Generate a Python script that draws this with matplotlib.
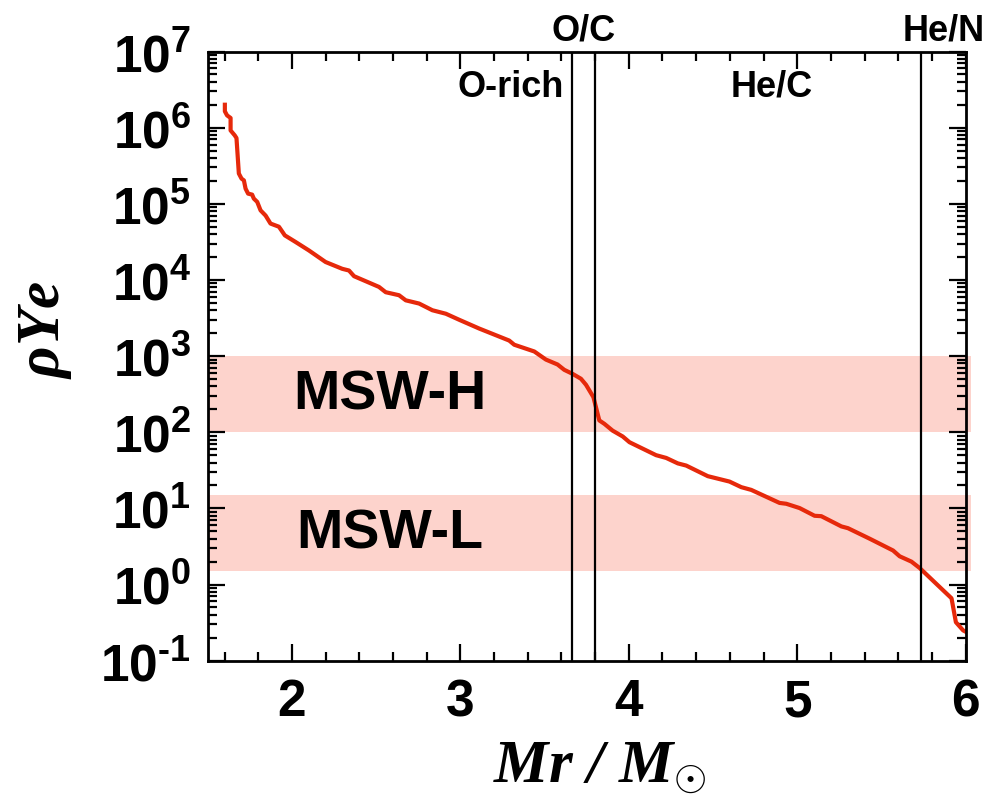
import math
import matplotlib
matplotlib.use("Agg")
import matplotlib.pyplot as plt
from matplotlib.ticker import LogLocator, MultipleLocator, FuncFormatter

plt.rcParams['font.family'] = ['Liberation Sans', 'DejaVu Sans']
plt.rcParams['mathtext.fontset'] = 'custom'
plt.rcParams['mathtext.rm'] = 'Liberation Sans:bold'
plt.rcParams['mathtext.bf'] = 'Liberation Sans:bold'
plt.rcParams['mathtext.it'] = 'Liberation Serif:italic'
plt.rcParams['mathtext.bfit'] = 'Liberation Serif:italic:bold'

# density profile: enclosed mass vs rho*Ye
mass = [1.602, 1.602, 1.615, 1.636, 1.636, 1.661, 1.671, 1.685, 1.701, 1.715,
        1.725, 1.740, 1.764, 1.774, 1.794, 1.814, 1.844, 1.873, 1.923, 1.958,
        2.022, 2.101, 2.200, 2.299, 2.339, 2.369, 2.517, 2.557, 2.636, 2.676,
        2.755, 2.834, 2.914, 2.993, 3.112, 3.290, 3.320, 3.439, 3.508, 3.577,
        3.617, 3.666, 3.716, 3.746, 3.790, 3.825, 3.855, 3.904, 3.964, 4.004,
        4.162, 4.222, 4.291, 4.341, 4.469, 4.598, 4.668, 4.727, 4.895, 4.935,
        5.014, 5.103, 5.143, 5.262, 5.301, 5.430, 5.569, 5.608, 5.678, 5.728,
        5.916, 5.942, 5.985, 6.0]
rho_ye = [2.0e6, 1.64e6, 1.45e6, 1.34e6, 9.2e5, 7.9e5, 7.3e5, 2.5e5, 2.14e5, 2.03e5,
          1.58e5, 1.36e5, 1.32e5, 1.17e5, 1.06e5, 8.2e4, 7.0e4, 5.5e4, 5.0e4, 3.85e4,
          3.15e4, 2.44e4, 1.72e4, 1.40e4, 1.33e4, 1.12e4, 8.1e3, 6.9e3, 6.3e3, 5.4e3,
          4.9e3, 4.0e3, 3.6e3, 3.0e3, 2.3e3, 1.6e3, 1.41e3, 1.15e3, 900, 776,
          660, 585, 504, 420, 289, 143, 129, 105, 88, 74,
          50, 46, 39, 36.5, 26.5, 22.5, 19, 17.5, 11.8, 11.5,
          10.1, 8.0, 7.9, 5.8, 5.5, 4.0, 2.8, 2.35, 2.0, 1.64,
          0.66, 0.32, 0.25, 0.24]

# composition boundaries
bounds = [3.662, 3.797, 5.732]

# MSW resonance density ranges
msw_names = ['MSW-H', 'MSW-L']
msw_ranges = [(100, 1000), (1.5, 15)]


def exp_label(v, pos):
    e = round(math.log10(v))
    if e < 0:
        return r'$\mathbf{10^{\text{-}%d}}$' % -e
    return r'$\mathbf{10^{%d}}$' % e


fig = plt.figure(figsize=(9.88, 8.04), dpi=100)
ax = fig.add_axes([0.2102, 0.177, 0.7672, 0.7577])

for (lo, hi), name in zip(msw_ranges, msw_names):
    ax.fill_between([1.5, 6.03], lo, hi, color='#fdd3cc', lw=0, clip_on=False, zorder=0)
    ax.text(2.58, (lo * hi) ** 0.5, name, ha='center', va='center',
            fontsize=40, fontweight='bold', zorder=3)

ax.plot(mass, rho_ye, color='#e6290b', lw=3.0, zorder=2)

for b in bounds:
    ax.axvline(b, color='black', lw=1.6, zorder=2)

ax.set_yscale('log')
ax.set_xlim(1.5, 6.0)
ax.set_ylim(1e-1, 1e7)

ax.xaxis.set_major_locator(MultipleLocator(1))
ax.xaxis.set_minor_locator(MultipleLocator(0.2))
ax.yaxis.set_major_locator(LogLocator(base=10, numticks=20))
ax.yaxis.set_minor_locator(LogLocator(base=10, subs=range(2, 10), numticks=20))
ax.yaxis.set_major_formatter(FuncFormatter(exp_label))
ax.xaxis.set_major_formatter(FuncFormatter(lambda v, p: '%d' % v))

ax.tick_params(which='both', direction='in', top=True, right=True, width=1.6)
ax.tick_params(which='major', length=12)
ax.tick_params(which='minor', length=6.5)
ax.tick_params(axis='x', labelsize=37, pad=12)
ax.tick_params(axis='y', labelsize=37, pad=12)
for lab in ax.get_xticklabels():
    lab.set_fontweight('bold')
for s in ax.spines.values():
    s.set_linewidth(2)

# region labels
ax.text(3.3, 3.5e6, 'O-rich', ha='center', va='center', fontsize=26, fontweight='bold')
ax.text(4.85, 3.5e6, 'He/C', ha='center', va='center', fontsize=26, fontweight='bold')
fig.text(584 / 988, 1 - 31 / 804, 'O/C', ha='center', va='center', fontsize=26, fontweight='bold')
fig.text(985 / 988, 1 - 31 / 804, 'He/N', ha='right', va='center', fontsize=26, fontweight='bold')

fig.text(600 / 988, 1 - 768 / 804, r'$\mathbfit{Mr\ /\ M}_{\odot}$', ha='center', va='center', fontsize=44)
fig.text(45 / 988, 1 - 330 / 804, r'$\mathbfit{\rho Ye}$', ha='center', va='center', fontsize=44, rotation=90)

plt.savefig('out.png', dpi=100)
